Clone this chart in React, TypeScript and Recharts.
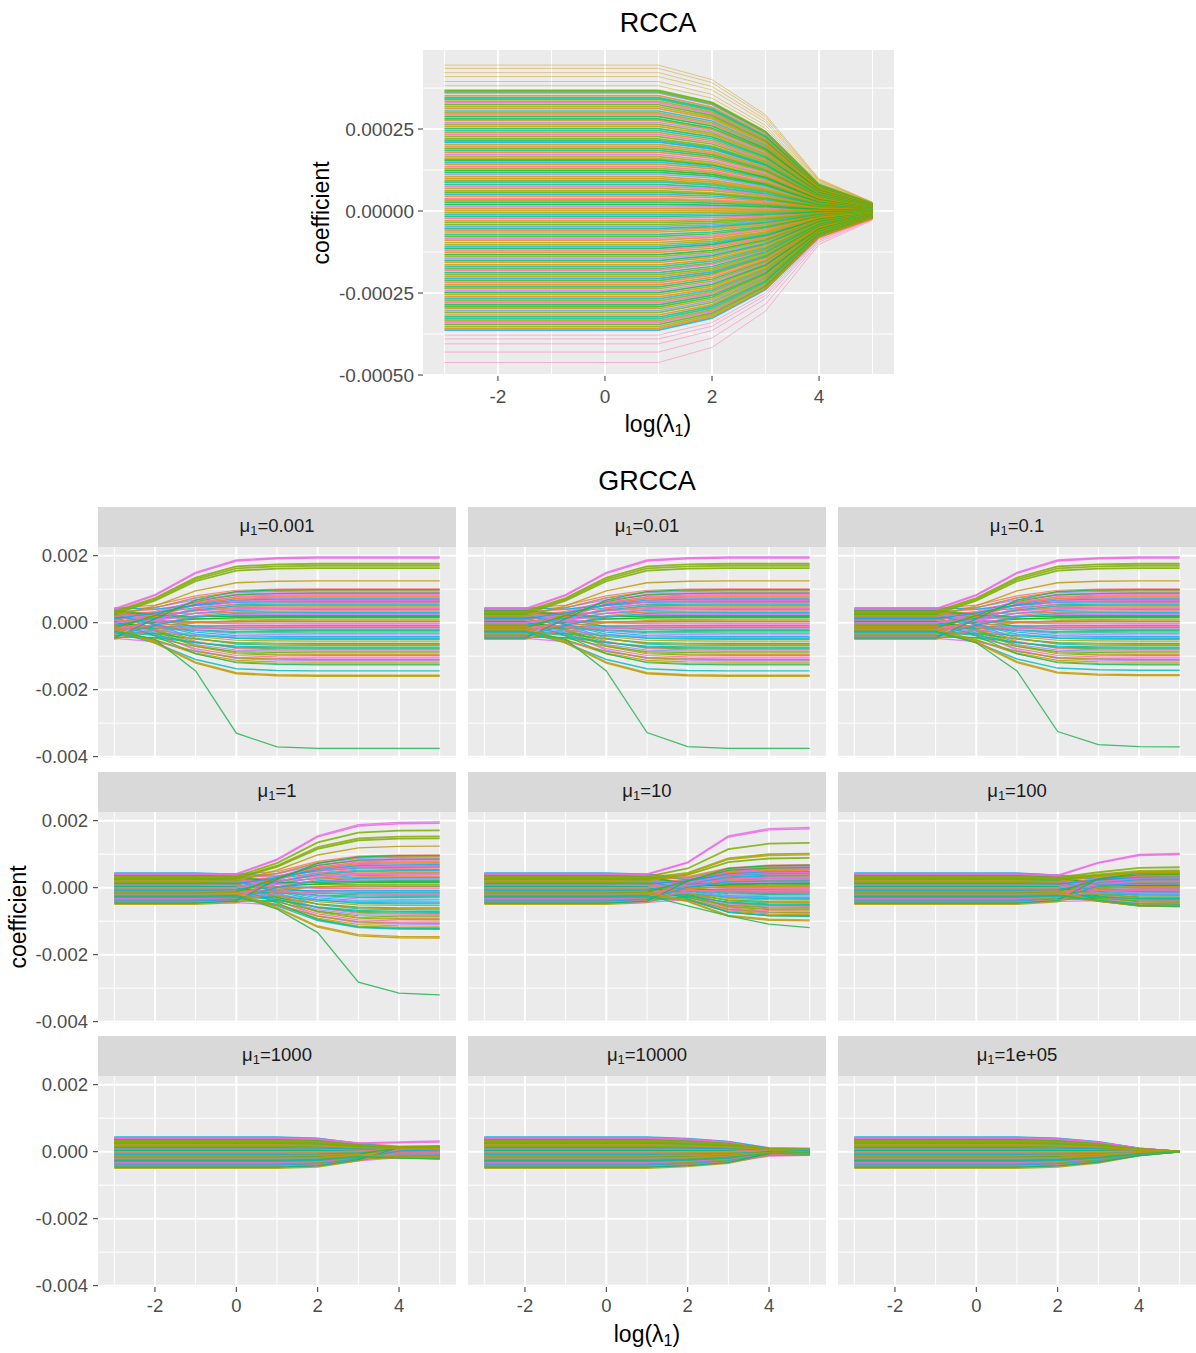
import React from 'react';
import { LineChart, Line, XAxis, YAxis, CartesianGrid } from 'recharts';

// ---------- shared axis data ----------
const LAMBDA = [-3, -2, -1, 0, 1, 2, 3, 4, 5];
const X_TICKS = [-2, 0, 2, 4];
const X_MINOR = [-3, -1, 1, 3, 5];
const X_DOMAIN: [number, number] = [-3.4, 5.4];

// ---------- RCCA (values in units of 1e-4) ----------
const RCCA_Y_TICKS = [-0.0005, -0.00025, 0, 0.00025];
const RCCA_Y_MINOR = [-0.000375, -0.000125, 0.000125, 0.000375];
const RCCA_Y_DOMAIN: [number, number] = [-0.000503, 0.000491];
const RCCA_START = [
  4.45, 4.35, 4.22, 4.1, 3.95, 3.82, 3.68, 3.6, 3.52, 3.41, 3.3, 3.18, 3.05, 2.94, 2.81, 2.7,
  2.58, 2.45, 2.33, 2.2, 2.1, 1.97, 1.85, 1.72, 1.6, 1.49, 1.36, 1.24, 1.12, 0.99, 0.88, 0.75,
  0.62, 0.51, 0.38, 0.27, 0.14, 0.02, -0.1, -0.22, -0.35, -0.47, -0.58, -0.71, -0.83, -0.96,
  -1.08, -1.2, -1.33, -1.45, -1.57, -1.7, -1.81, -1.94, -2.06, -2.18, -2.31, -2.43, -2.55,
  -2.68, -2.8, -2.92, -3.04, -3.17, -3.29, -3.4, -3.52, -3.63, -3.78, -3.9, -4.05, -4.3, -4.62,
  3.64, 3.46, 3.35, 3.24, 3.12, 2.99, 2.88, 2.76, 2.64, 2.51, 2.39, 2.27, 2.15, 2.03, 1.91,
  1.79, 1.66, 1.55, 1.43, 1.3, 1.18, 1.05, 0.93, 0.81, 0.69, 0.57, 0.45, 0.33, 0.2, 0.08,
  -0.04, -0.16, -0.29, -0.41, -0.53, -0.64, -0.77, -0.89, -1.02, -1.14, -1.26, -1.39, -1.51,
  -1.64, -1.76, -1.88, -2.0, -2.12, -2.25, -2.37, -2.49, -2.62, -2.74, -2.86, -2.98, -3.1,
  -3.23, -3.35, -3.46, -3.58,
];
const RCCA_SHRINK = [1, 1, 1, 1, 1, 0.9, 0.66, 0.22, 0.06];

// ---------- GRCCA (values in units of 1e-4) ----------
const GR_Y_TICKS = [-0.004, -0.002, 0, 0.002];
const GR_Y_MINOR = [-0.003, -0.001, 0.001];
const GR_Y_DOMAIN: [number, number] = [-0.00404, 0.00226];
const MU_LABELS = ['0.001', '0.01', '0.1', '1', '10', '100', '1000', '10000', '1e+05'];

const GR_BODY_START = [
  4.3, 4.1, 3.9, 3.7, 3.5, 3.3, 3.1, 2.9, 2.7, 2.5, 2.3, 2.1, 1.9, 1.7, 1.5, 1.3, 1.1, 0.9, 0.7,
  0.5, 0.3, 0.1, -0.1, -0.3, -0.5, -0.7, -0.9, -1.1, -1.3, -1.5, -1.7, -1.9, -2.1, -2.3, -2.5,
  -2.7, -2.9, -3.1, -3.3, -3.5, -3.7, -3.9, -4.1, -4.4, -4.7, -5.0,
  4.4, 4.0, 3.6, 3.2, 2.8, 2.4, 2.0, 1.6, 1.2, 0.8, 0.4, 0.0, -0.4, -0.8, -1.2, -1.6, -2.0,
  -2.4, -2.8, -3.2, -3.6, -4.0, -4.3, -4.6,
];
const GR_BODY_END = [
  10.1, -2.3, 8.6, 3.2, -6.8, 7.4, 1.1, 9.4, -9.5, 5.6, -0.4, 6.5, -4.1, 8.0, 2.2, -11.3, 4.7,
  -1.5, 6.9, -7.9, 0.3, 5.1, -3.1, 9.0, -5.5, 3.9, -10.3, 1.6, -8.6, 7.7, -2.7, 4.2, -12.3, -0.9,
  6.0, -6.2, 2.7, -11.8, -4.7, 8.3, -9.0, -1.9, 3.5, -7.3, -10.8, 0.8,
  6.3, -8.2, 1.9, -3.6, 9.7, -5.0, 4.4, -9.8, 7.1, -0.1, -12.6, 2.5, -6.5, 5.3, -2.0, 8.8, -4.4,
  0.5, -7.6, 6.6, -11.0, 3.0, -1.2, 9.9,
];
// outlying groups: pink1, pink2, greenTop1, greenTop2, greenTop3, oliveTop, cyanBottom, oliveBottom1, oliveBottom2
const GR_OUT_START = [4.2, 3.9, 3.4, 3.0, 2.6, 2.0, -2.8, -1.8, -1.2];
const PANEL_OUT_END = [
  [19.6, 19.3, 17.6, 17.0, 16.3, 12.5, -14.4, -16.0, -15.7],
  [19.6, 19.3, 17.6, 17.0, 16.3, 12.5, -14.4, -16.0, -15.7],
  [19.6, 19.3, 17.6, 17.0, 16.3, 12.5, -14.2, -15.8, -15.5],
  [19.6, 19.2, 17.1, 15.3, 14.7, 12.4, -12.4, -15.0, -14.6],
  [18.0, 17.6, 13.4, 10.2, 8.9, 9.8, -8.5, -9.9, -9.6],
  [10.2, 9.9, 6.1, 5.2, 4.8, 4.6, -4.9, -5.4, -5.6],
  [3.2, 2.9, 1.5, 1.3, 1.2, 1.0, -1.2, -1.6, -1.4],
  [-0.7, -0.6, 0.3, 0.2, 0.2, 0.3, 0.7, -0.2, -0.1],
  [0, 0, 0, 0, 0, 0, 0, 0, 0],
];
const PANEL_GREEN_LOW = [
  [-2.5, -5, -14.4, -33, -37.1, -37.5, -37.5, -37.5, -37.5],
  [-2.5, -2.5, -5, -14.4, -32.8, -37, -37.5, -37.5, -37.5],
  [-2.5, -2.5, -2.5, -6, -14.4, -32.5, -36.4, -37, -37.1],
  [-2.5, -2.5, -2.5, -2.3, -6.4, -13.4, -28.2, -31.5, -32],
  [-2.5, -2.5, -2.5, -2.5, -2.3, -5.4, -8.4, -10.9, -11.9],
  [-2.5, -2.5, -2.5, -2.5, -2.5, -2.2, -3.8, -5.3, -5.6],
  [-2.5, -2.5, -2.5, -2.5, -2.5, -2.3, -1.4, -1.9, -2.2],
  [-2.5, -2.5, -2.5, -2.5, -2.5, -2.3, -1.7, -0.5, -0.3],
  [-2.5, -2.5, -2.5, -2.5, -2.5, -2.3, -1.7, -0.6, -0.05],
];
const PANEL_KEEP = [
  [1, 0.45, 0.12, 0.02, 0, 0, 0, 0, 0],
  [1, 1, 0.45, 0.12, 0.02, 0, 0, 0, 0],
  [1, 1, 1, 0.45, 0.12, 0.02, 0, 0, 0],
  [1, 1, 1, 0.9, 0.25, 0.05, 0, 0, 0],
  [1, 1, 1, 1, 0.9, 0.15, 0, 0, 0],
  [1, 1, 1, 1, 1, 0.85, 0.1, 0, 0],
  [1, 1, 1, 1, 1, 0.92, 0.55, 0.05, 0],
  [1, 1, 1, 1, 1, 0.9, 0.7, 0.2, 0.1],
  [1, 1, 1, 1, 1, 0.92, 0.68, 0.25, 0.02],
];
const PANEL_REACH = [
  [0, 0.33, 0.74, 0.95, 0.99, 1, 1, 1, 1],
  [0, 0, 0.33, 0.74, 0.95, 0.99, 1, 1, 1],
  [0, 0, 0, 0.33, 0.74, 0.95, 0.99, 1, 1],
  [0, 0, 0, 0.02, 0.38, 0.78, 0.96, 0.995, 1],
  [0, 0, 0, 0, 0.02, 0.39, 0.86, 0.98, 1],
  [0, 0, 0, 0, 0, 0.02, 0.7, 0.97, 1],
  [0, 0, 0, 0, 0, 0, 0.1, 0.85, 1],
  [0, 0, 0, 0, 0, 0, 0, 0.6, 1],
  [0, 0, 0, 0, 0, 0, 0, 0, 0],
];
const PANEL_BODY_SCALE = [1, 1, 1, 0.97, 0.68, 0.45, 0.17, 0.06, 0];

// ---------- styles ----------
const FONT = '"Liberation Sans", Arial, Helvetica, sans-serif';
const TICK_TEXT = '#4D4D4D';
const TICK_LINE = '#333333';
const OUT_COLORS = ['#E76BF3', '#F564E3', '#7CAE00', '#8CAB00', '#72B000', '#C09B00', '#00BFC4', '#B79F00', '#C49A00'];
const GREEN_LOW_COLOR = '#2DB75A';
const PAD = 12;

function hclHex(h: number, c = 100, l = 65): string {
  const hr = (h * Math.PI) / 180;
  const U = c * Math.cos(hr);
  const V = c * Math.sin(hr);
  const Xn = 0.95047, Yn = 1, Zn = 1.08883;
  const den = Xn + 15 * Yn + 3 * Zn;
  const un = (4 * Xn) / den, vn = (9 * Yn) / den;
  const Y = l > 8 ? Yn * Math.pow((l + 16) / 116, 3) : (Yn * l) / 903.3;
  const up = U / (13 * l) + un;
  const vp = V / (13 * l) + vn;
  const X = (Y * 9 * up) / (4 * vp);
  const Z = (Y * (12 - 3 * up - 20 * vp)) / (4 * vp);
  const lin = [
    3.2406 * X - 1.5372 * Y - 0.4986 * Z,
    -0.9689 * X + 1.8758 * Y + 0.0415 * Z,
    0.0557 * X - 0.204 * Y + 1.057 * Z,
  ];
  return (
    '#' +
    lin
      .map((v) => {
        const g = v <= 0.0031308 ? 12.92 * v : 1.055 * Math.pow(v, 1 / 2.4) - 0.055;
        const n = Math.max(0, Math.min(255, Math.round(g * 255)));
        return n.toString(16).padStart(2, '0');
      })
      .join('')
  );
}

const hueOf = (k: number) => (15 + k * 137.508) % 360;
// warmer / greener hues for the lines drawn on top in the RCCA panel
const warmHueOf = (k: number) => 35 + ((k * 47.3) % 130);

type Row = Record<string, number>;

const rccaRows: Row[] = LAMBDA.map((x, i) => {
  const row: Row = { x };
  RCCA_START.forEach((s, k) => {
    row[`l${k}`] = s * RCCA_SHRINK[i] * 1e-4;
  });
  return row;
});

function facetRows(p: number): Row[] {
  return LAMBDA.map((x, i) => {
    const row: Row = { x };
    const keep = PANEL_KEEP[p][i];
    const reach = PANEL_REACH[p][i];
    GR_BODY_START.forEach((s, k) => {
      row[`b${k}`] = (s * keep + GR_BODY_END[k] * PANEL_BODY_SCALE[p] * reach) * 1e-4;
    });
    GR_OUT_START.forEach((s, k) => {
      row[`o${k}`] = (s * keep + PANEL_OUT_END[p][k] * reach) * 1e-4;
    });
    row.g = PANEL_GREEN_LOW[p][i] * 1e-4;
    return row;
  });
}

const tickStyle = { fill: TICK_TEXT, fontSize: 18.5, fontFamily: FONT };
const rccaTickStyle = { fill: TICK_TEXT, fontSize: 19, fontFamily: FONT };

function RccaChart() {
  return (
    <LineChart width={600} height={366} data={rccaRows} margin={{ top: 10, right: 6, bottom: 0, left: 0 }}>
      <CartesianGrid fill="#EBEBEB" stroke="#FFFFFF" strokeWidth={1} horizontalValues={RCCA_Y_MINOR} verticalValues={X_MINOR} />
      <CartesianGrid fill="none" stroke="#FFFFFF" strokeWidth={2} horizontalValues={RCCA_Y_TICKS} verticalValues={X_TICKS} />
      <XAxis
        dataKey="x"
        type="number"
        domain={X_DOMAIN}
        ticks={X_TICKS}
        allowDataOverflow
        interval={0}
        height={30}
        axisLine={false}
        tickLine={{ stroke: TICK_LINE }}
        tickSize={5}
        tickMargin={9}
        tick={rccaTickStyle}
      />
      <YAxis
        type="number"
        domain={RCCA_Y_DOMAIN}
        ticks={RCCA_Y_TICKS}
        allowDataOverflow
        interval={0}
        width={123}
        axisLine={false}
        tickLine={{ stroke: TICK_LINE }}
        tickSize={5}
        tickMargin={4}
        tick={rccaTickStyle}
        tickFormatter={(v: number) => v.toFixed(5)}
      />
      {RCCA_START.map((s, k) => {
        const outer = Math.abs(s) > 3.7;
        const hue = outer ? (s > 0 ? 62 : 345) : k >= 73 ? warmHueOf(k) : hueOf(k);
        return (
          <Line
            key={k}
            dataKey={`l${k}`}
            type="linear"
            stroke={hclHex(hue)}
            strokeWidth={outer ? 1 : 1.7}
            strokeOpacity={outer ? 0.45 : 0.8}
            dot={false}
            activeDot={false}
            isAnimationActive={false}
          />
        );
      })}
    </LineChart>
  );
}

function Facet({ p, showY, showX }: { p: number; showY: boolean; showX: boolean }) {
  const data = facetRows(p);
  return (
    <LineChart
      width={showY ? 456 : 358}
      height={211 + PAD + (showX ? 35 : PAD)}
      data={data}
      margin={{ top: PAD, right: 0, bottom: showX ? 0 : PAD, left: 0 }}
    >
      <CartesianGrid fill="#EBEBEB" stroke="#FFFFFF" strokeWidth={1} horizontalValues={GR_Y_MINOR} verticalValues={X_MINOR} />
      <CartesianGrid fill="none" stroke="#FFFFFF" strokeWidth={2} horizontalValues={GR_Y_TICKS} verticalValues={X_TICKS} />
      <XAxis
        hide={!showX}
        dataKey="x"
        type="number"
        domain={X_DOMAIN}
        ticks={X_TICKS}
        allowDataOverflow
        interval={0}
        height={35}
        axisLine={false}
        tickLine={{ stroke: TICK_LINE }}
        tickSize={5}
        tickMargin={7}
        tick={tickStyle}
      />
      <YAxis
        hide={!showY}
        type="number"
        domain={GR_Y_DOMAIN}
        ticks={GR_Y_TICKS}
        allowDataOverflow
        interval={0}
        width={98}
        axisLine={false}
        tickLine={{ stroke: TICK_LINE }}
        tickSize={5}
        tickMargin={5}
        tick={tickStyle}
        tickFormatter={(v: number) => v.toFixed(3)}
      />
      {GR_BODY_START.map((_, k) => (
        <Line
          key={`b${k}`}
          dataKey={`b${k}`}
          type="linear"
          stroke={hclHex(hueOf(k))}
          strokeWidth={1.2}
          strokeOpacity={0.85}
          dot={false}
          activeDot={false}
          isAnimationActive={false}
        />
      ))}
      {GR_OUT_START.map((_, k) => (
        <Line
          key={`o${k}`}
          dataKey={`o${k}`}
          type="linear"
          stroke={OUT_COLORS[k]}
          strokeWidth={k >= 2 && k <= 4 ? 1.8 : 1.4}
          strokeOpacity={0.85}
          dot={false}
          activeDot={false}
          isAnimationActive={false}
        />
      ))}
      <Line
        dataKey="g"
        type="linear"
        stroke={GREEN_LOW_COLOR}
        strokeWidth={1.3}
        strokeOpacity={0.9}
        dot={false}
        activeDot={false}
        isAnimationActive={false}
      />
    </LineChart>
  );
}

const COL_LEFT = [98, 468, 838];
const STRIP_TOP = [507, 772, 1036];
const PANEL_TOP = [547, 812, 1076];

const abs = (left: number, top: number): React.CSSProperties => ({ position: 'absolute', left, top });

function CenterText({ x, y, size, children, rotate }: { x: number; y: number; size: number; children: React.ReactNode; rotate?: boolean }) {
  return (
    <div
      style={{
        position: 'absolute',
        left: x,
        top: y,
        transform: `translate(-50%, -50%)${rotate ? ' rotate(-90deg)' : ''}`,
        fontSize: size,
        lineHeight: 1,
        whiteSpace: 'nowrap',
        color: '#000',
      }}
    >
      {children}
    </div>
  );
}

const Lambda1 = () => (
  <span>
    log(λ<sub style={{ fontSize: '0.7em', verticalAlign: '-0.25em' }}>1</sub>)
  </span>
);

export default function App() {
  return (
    <div
      style={{
        position: 'absolute',
        left: 0,
        top: 0,
        width: 1196,
        height: 1353,
        background: '#FFFFFF',
        fontFamily: FONT,
        overflow: 'hidden',
      }}
    >
      <CenterText x={658} y={23} size={27}>RCCA</CenterText>
      <div style={abs(300, 40)}>
        <RccaChart />
      </div>
      <CenterText x={321} y={213} size={23} rotate>coefficient</CenterText>
      <CenterText x={658} y={426} size={23}><Lambda1 /></CenterText>

      <CenterText x={647} y={481} size={27}>GRCCA</CenterText>
      {MU_LABELS.map((mu, p) => {
        const r = Math.floor(p / 3);
        const c = p % 3;
        return (
          <React.Fragment key={mu}>
            <div
              style={{
                position: 'absolute',
                left: COL_LEFT[c],
                top: STRIP_TOP[r],
                width: 358,
                height: 40,
                background: '#D9D9D9',
                display: 'flex',
                alignItems: 'center',
                justifyContent: 'center',
                fontSize: 18.5,
                color: '#1A1A1A',
              }}
            >
              <span>
                μ<sub style={{ fontSize: '0.7em', verticalAlign: '-0.25em' }}>1</sub>={mu}
              </span>
            </div>
            <div style={abs(c === 0 ? 0 : COL_LEFT[c], PANEL_TOP[r] - PAD)}>
              <Facet p={p} showY={c === 0} showX={r === 2} />
            </div>
          </React.Fragment>
        );
      })}
      <CenterText x={18} y={917} size={23} rotate>coefficient</CenterText>
      <CenterText x={647} y={1336} size={23}><Lambda1 /></CenterText>
    </div>
  );
}
